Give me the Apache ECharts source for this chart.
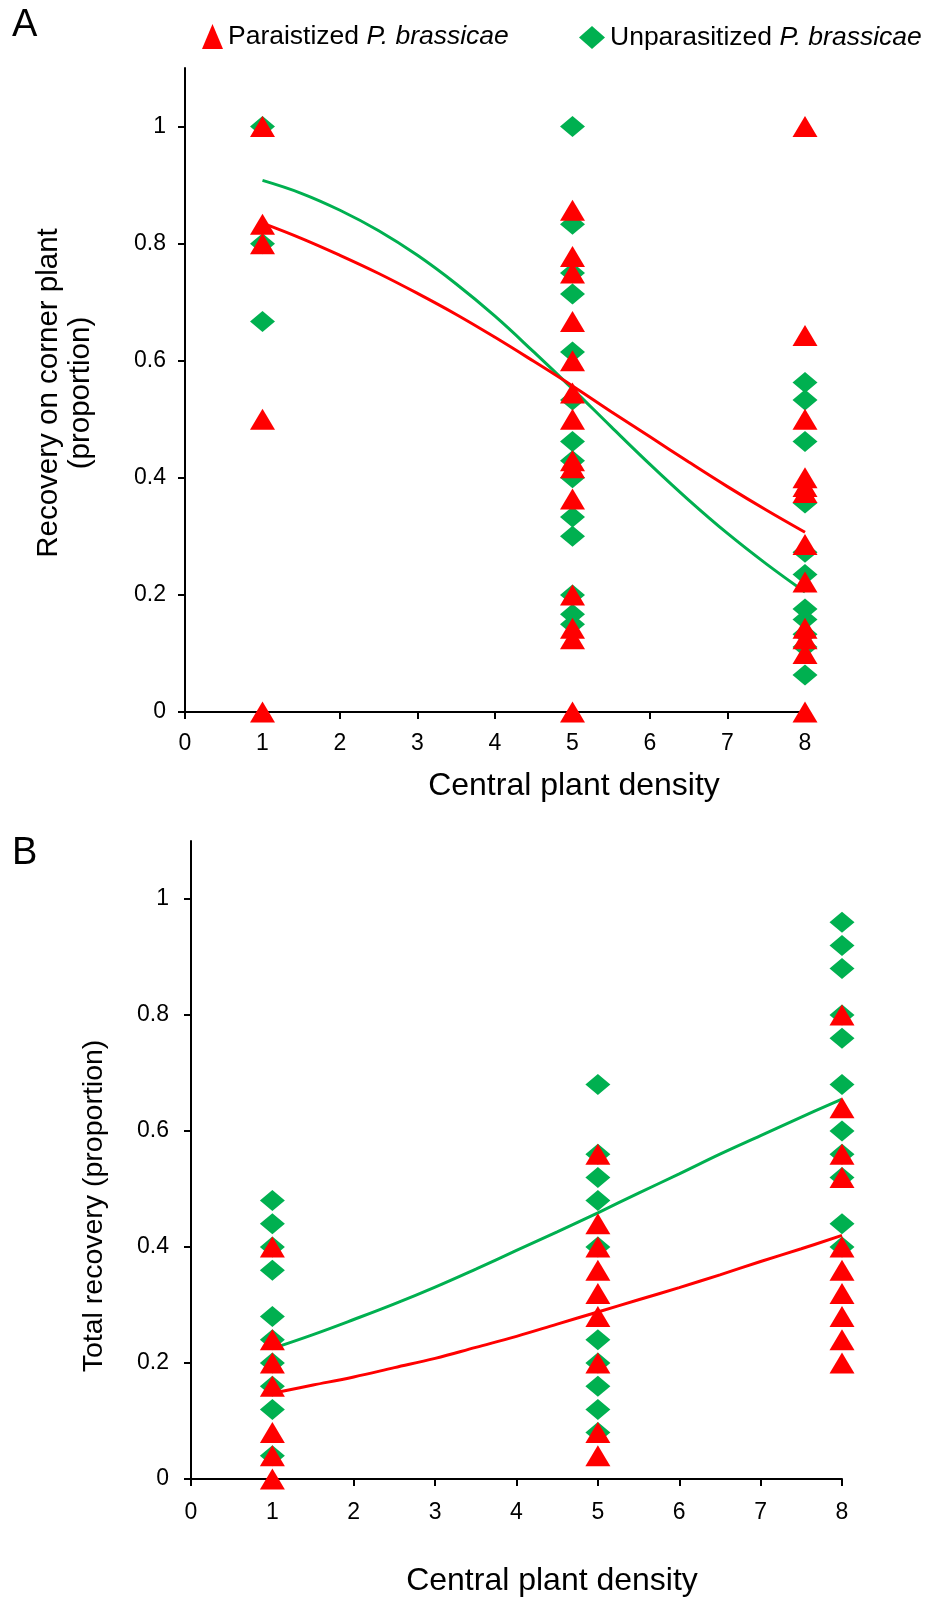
<!DOCTYPE html>
<html>
<head>
<meta charset="utf-8">
<script src="https://cdn.jsdelivr.net/npm/echarts@6/dist/echarts.min.js"></script>
<style>
html,body{margin:0;padding:0;background:#fff;}
#chart{width:939px;height:1600px;}
</style>
</head>
<body>
<div id="chart"></div>
<script>
// ---------- data ----------
const densities = [1, 5, 8];
const xTicks = [0, 1, 2, 3, 4, 5, 6, 7, 8];
const yTicks = [0, 0.2, 0.4, 0.6, 0.8, 1];

// Panel A: recovery on corner plant (proportion)
const aPara_d1 = [1.0, 0.833, 0.8, 0.5, 0];
const aPara_d5 = [0.857, 0.778, 0.75, 0.667, 0.6, 0.545, 0.5, 0.429, 0.417, 0.364, 0.2, 0.143, 0.125, 0];
const aPara_d8 = [1.0, 0.643, 0.5, 0.4, 0.385, 0.375, 0.286, 0.222, 0.143, 0.125, 0.1, 0];
const aUnpara_d1 = [1.0, 0.8, 0.667];
const aUnpara_d5 = [1.0, 0.833, 0.75, 0.714, 0.615, 0.533, 0.462, 0.429, 0.4, 0.333, 0.3, 0.2, 0.167, 0.15];
const aUnpara_d8 = [0.563, 0.533, 0.462, 0.357, 0.273, 0.235, 0.176, 0.158, 0.133, 0.111, 0.063];

// Panel B: total recovery (proportion)
const bPara_d1 = [0.4, 0.24, 0.2, 0.16, 0.08, 0.04, 0];
const bPara_d5 = [0.56, 0.44, 0.4, 0.36, 0.32, 0.28, 0.2, 0.08, 0.04];
const bPara_d8 = [0.8, 0.64, 0.56, 0.52, 0.4, 0.36, 0.32, 0.28, 0.24, 0.2];
const bUnpara_d1 = [0.48, 0.44, 0.4, 0.36, 0.28, 0.24, 0.2, 0.16, 0.12, 0.04];
const bUnpara_d5 = [0.68, 0.56, 0.52, 0.48, 0.4, 0.24, 0.2, 0.16, 0.12, 0.08];
const bUnpara_d8 = [0.96, 0.92, 0.88, 0.8, 0.76, 0.68, 0.6, 0.56, 0.52, 0.44, 0.4];

// fitted curves
const curveX = [1, 1.5, 2, 2.5, 3, 3.5, 4, 4.5, 5, 5.5, 6, 6.5, 7, 7.5, 8];
const aParaCurve = [0.835, 0.809, 0.78, 0.749, 0.715, 0.679, 0.64, 0.599, 0.557, 0.513, 0.47, 0.427, 0.385, 0.345, 0.307];
const aUnparaCurve = [0.908, 0.886, 0.857, 0.822, 0.78, 0.731, 0.676, 0.615, 0.552, 0.487, 0.423, 0.362, 0.305, 0.253, 0.205];
const bParaCurve = [0.148, 0.162, 0.176, 0.192, 0.208, 0.227, 0.246, 0.267, 0.288, 0.309, 0.33, 0.352, 0.375, 0.397, 0.42];
const bUnparaCurve = [0.225, 0.249, 0.275, 0.302, 0.331, 0.362, 0.394, 0.426, 0.459, 0.493, 0.526, 0.56, 0.592, 0.624, 0.655];

const paraName = 'Paraistized';
const unparaName = 'Unparasitized';

// ---------- build ----------
function pts(groups) {
  const out = [];
  groups.forEach((vals, i) => vals.forEach(v => out.push([densities[i], v])));
  return out;
}
function curve(ys) { return curveX.map((x, i) => [x, ys[i]]); }

const RED = '#ff0000', GREEN = '#00b050';
const FONT = '"Liberation Sans", Arial, sans-serif';

function xAxisCfg(gi, margin) {
  return {
    type: 'value', gridIndex: gi, min: 0, max: 8, interval: 1,
    axisLine: {show: true, onZero: false, lineStyle: {color: '#000', width: 2}},
    axisTick: {show: true, length: 7, lineStyle: {color: '#000', width: 2}, customValues: xTicks},
    axisLabel: {color: '#000', fontSize: 23, fontFamily: FONT, margin: margin, customValues: xTicks},
    splitLine: {show: false}
  };
}
function yAxisCfg(gi, margin) {
  return {
    type: 'value', gridIndex: gi, min: 0, max: 1.1, interval: 0.1,
    axisLine: {show: true, onZero: false, lineStyle: {color: '#000', width: 2}},
    axisTick: {show: true, length: 7, lineStyle: {color: '#000', width: 2}, customValues: yTicks},
    axisLabel: {color: '#000', fontSize: 23, fontFamily: FONT, margin: margin, customValues: yTicks,
      formatter: v => String(Math.round(v * 10) / 10)},
    splitLine: {show: false}
  };
}
function scatter(name, gi, data, color, symbol, z) {
  return {
    name: name, type: 'scatter', xAxisIndex: gi, yAxisIndex: gi, data: data,
    symbol: symbol, symbolSize: [25, 21], itemStyle: {color: color, opacity: 1}, z: z,
    emphasis: {disabled: true}
  };
}
function line(name, gi, data, color) {
  return {
    name: name, type: 'line', xAxisIndex: gi, yAxisIndex: gi, data: data, smooth: 0.4,
    showSymbol: false, symbol: 'none', lineStyle: {color: color, width: 3}, itemStyle: {color: color}, z: 1,
    emphasis: {disabled: true}
  };
}

const legendText = {
  fontSize: 26.5, fontFamily: FONT, color: '#000',
  rich: {
    n: {fontSize: 26.5, fontFamily: FONT, color: '#000'},
    i: {fontSize: 26.5, fontFamily: FONT, color: '#000', fontStyle: 'italic'}
  }
};

const option = {
  animation: false,
  backgroundColor: '#fff',
  textStyle: {fontFamily: FONT},
  legend: [
    {left: 197, top: 18, itemWidth: 21, itemHeight: 25, itemGap: 5,
     data: [{name: paraName, icon: 'triangle'}], textStyle: legendText,
     formatter: n => '{n|' + n + ' }{i|P. brassicae}', selectedMode: false},
    {left: 574, top: 19, itemWidth: 26, itemHeight: 23, itemGap: 3,
     data: [{name: unparaName, icon: 'diamond'}], textStyle: legendText,
     formatter: n => '{n|' + n + ' }{i|P. brassicae}', selectedMode: false}
  ],
  grid: [
    {left: 185, top: 68, width: 620, height: 644},
    {left: 191, top: 841, width: 651, height: 638}
  ],
  xAxis: [xAxisCfg(0, 20), xAxisCfg(1, 22)],
  yAxis: [yAxisCfg(0, 19), yAxisCfg(1, 22)],
  series: [
    line(unparaName, 0, curve(aUnparaCurve), GREEN),
    line(paraName, 0, curve(aParaCurve), RED),
    scatter(unparaName, 0, pts([aUnpara_d1, aUnpara_d5, aUnpara_d8]), GREEN, 'diamond', 2),
    scatter(paraName, 0, pts([aPara_d1, aPara_d5, aPara_d8]), RED, 'triangle', 3),
    line(unparaName, 1, curve(bUnparaCurve), GREEN),
    line(paraName, 1, curve(bParaCurve), RED),
    scatter(unparaName, 1, pts([bUnpara_d1, bUnpara_d5, bUnpara_d8]), GREEN, 'diamond', 2),
    scatter(paraName, 1, pts([bPara_d1, bPara_d5, bPara_d8]), RED, 'triangle', 3)
  ],
  graphic: [
    {type: 'text', left: 12, top: 7, style: {text: 'A', fontSize: 38, fontFamily: FONT, fill: '#000'}},
    {type: 'text', left: 12, top: 835, style: {text: 'B', fontSize: 38, fontFamily: FONT, fill: '#000'}},
    {type: 'text', x: 65, y: 393, rotation: Math.PI / 2,
     style: {text: 'Recovery on corner plant\n(proportion)', fontSize: 29.5, lineHeight: 32, fontFamily: FONT, fill: '#000',
       align: 'center', verticalAlign: 'middle'}},
    {type: 'text', x: 94, y: 1206, rotation: Math.PI / 2,
     style: {text: 'Total recovery (proportion)', fontSize: 28.5, fontFamily: FONT, fill: '#000',
       align: 'center', verticalAlign: 'middle'}},
    {type: 'text', x: 574, y: 786,
     style: {text: 'Central plant density', fontSize: 32, fontFamily: FONT, fill: '#000',
       align: 'center', verticalAlign: 'middle'}},
    {type: 'text', x: 552, y: 1581,
     style: {text: 'Central plant density', fontSize: 32, fontFamily: FONT, fill: '#000',
       align: 'center', verticalAlign: 'middle'}}
  ]
};

const chart = echarts.init(document.getElementById('chart'), null, {renderer: 'canvas'});
chart.setOption(option);
</script>
</body>
</html>
